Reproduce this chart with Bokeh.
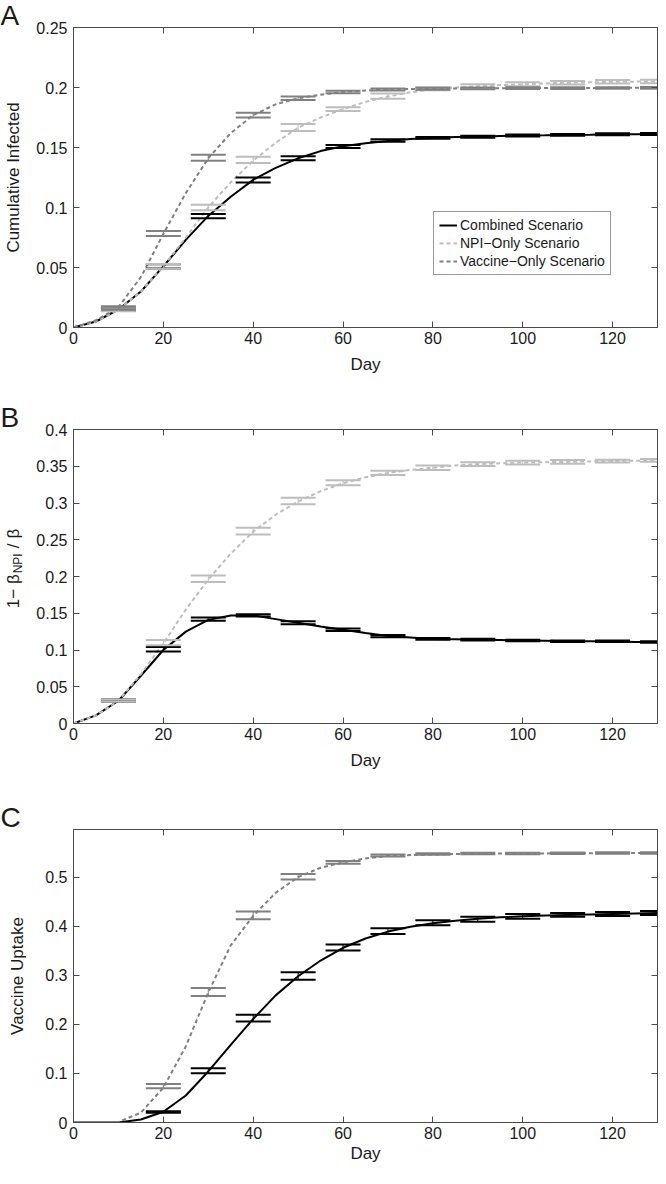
import math
from bokeh.plotting import figure
from bokeh.models import (Range1d, LinearAxis, Legend, LegendItem, Label, Whisker,
                          ColumnDataSource, TeeHead, FixedTicker, CustomJSTickFormatter)
from bokeh.layouts import column, row
from bokeh.embed import file_html
from bokeh.resources import INLINE

# ---------------- data ----------------
days = list(range(0, 131, 5))
err_days = list(range(10, 131, 10))
err_days_c = list(range(20, 131, 10))

x_ticks = [0, 20, 40, 60, 80, 100, 120]
x_tick_labels = ["0", "20", "40", "60", "80", "100", "120"]

series_names = ["Combined Scenario", "NPI\u2212Only Scenario", "Vaccine\u2212Only Scenario"]
panel_letters = ["A", "B", "C"]
y_titles = ["Cumulative Infected", None, "Vaccine Uptake"]
b_title_parts = ["1\u2212 \u03b2", "NPI", "/", "\u03b2"]

# Panel A: cumulative infected
a_yticks = [0, 0.05, 0.1, 0.15, 0.2, 0.25]
a_ytick_labels = ["0", "0.05", "0.1", "0.15", "0.2", "0.25"]
a_combined = [0, 0.005, 0.015, 0.030, 0.051, 0.073, 0.093, 0.109, 0.123, 0.133, 0.141, 0.147, 0.151,
              0.1535, 0.1555, 0.157, 0.158, 0.1587, 0.159, 0.1595, 0.160, 0.1602, 0.1605, 0.1607,
              0.161, 0.1611, 0.1612]
a_npi = [0, 0.005, 0.015, 0.030, 0.051, 0.075, 0.100, 0.121, 0.139, 0.154, 0.1665, 0.175, 0.182,
         0.188, 0.1925, 0.196, 0.1985, 0.200, 0.201, 0.202, 0.2027, 0.2033, 0.204, 0.2043, 0.2047,
         0.2049, 0.205]
a_vaccine = [0, 0.006, 0.017, 0.042, 0.078, 0.112, 0.141, 0.162, 0.177, 0.186, 0.191, 0.194, 0.1963,
             0.1975, 0.1983, 0.1988, 0.199, 0.1992, 0.1993, 0.1994, 0.1995, 0.1995, 0.1996, 0.1996,
             0.1997, 0.1997, 0.1997]
a_err_combined_mean = [0.015, 0.051, 0.0928, 0.1229, 0.141, 0.1508, 0.1558, 0.158, 0.159, 0.160, 0.1605, 0.161, 0.1612]
a_err_combined_half = [0.0012, 0.0018, 0.0018, 0.002, 0.0017, 0.0012, 0.001, 0.0008, 0.0008, 0.0008, 0.0008, 0.0008, 0.0008]
a_err_npi_mean = [0.0148, 0.051, 0.100, 0.1396, 0.1667, 0.182, 0.1928, 0.199, 0.201, 0.2027, 0.204, 0.2048, 0.205]
a_err_npi_half = [0.0012, 0.002, 0.0022, 0.0026, 0.0029, 0.0015, 0.0021, 0.0012, 0.0017, 0.0017, 0.0015, 0.0015, 0.0015]
a_err_vaccine_mean = [0.0165, 0.0784, 0.1415, 0.177, 0.191, 0.1963, 0.1983, 0.199, 0.1993, 0.1995, 0.1995, 0.1996, 0.1997]
a_err_vaccine_half = [0.0012, 0.0021, 0.0025, 0.002, 0.0015, 0.001, 0.0008, 0.0008, 0.0007, 0.0007, 0.0007, 0.0007, 0.0007]

# Panel B: 1 - beta_NPI / beta
b_yticks = [0, 0.05, 0.1, 0.15, 0.2, 0.25, 0.3, 0.35, 0.4]
b_ytick_labels = ["0", "0.05", "0.1", "0.15", "0.2", "0.25", "0.3", "0.35", "0.4"]
b_combined = [0, 0.011, 0.031, 0.065, 0.100, 0.125, 0.141, 0.147, 0.147, 0.142, 0.137, 0.132, 0.1275,
              0.123, 0.119, 0.117, 0.115, 0.1145, 0.114, 0.1135, 0.113, 0.1125, 0.112, 0.112, 0.1115,
              0.111, 0.111]
b_npi = [0, 0.011, 0.031, 0.067, 0.109, 0.155, 0.196, 0.231, 0.261, 0.284, 0.302, 0.316, 0.327, 0.335,
         0.341, 0.345, 0.348, 0.351, 0.353, 0.354, 0.355, 0.3556, 0.356, 0.3566, 0.357, 0.3575, 0.358]
b_err_combined_mean = [0.031, 0.101, 0.142, 0.147, 0.137, 0.1275, 0.119, 0.115, 0.114, 0.113, 0.112, 0.112, 0.111]
b_err_combined_half = [0.0015, 0.003, 0.0022, 0.0015, 0.002, 0.0018, 0.0015, 0.0012, 0.0012, 0.001, 0.001, 0.001, 0.001]
b_err_npi_mean = [0.031, 0.110, 0.197, 0.2617, 0.3027, 0.3276, 0.341, 0.348, 0.353, 0.355, 0.356, 0.357, 0.358]
b_err_npi_half = [0.0015, 0.0035, 0.0045, 0.0045, 0.0043, 0.0034, 0.003, 0.003, 0.0025, 0.0025, 0.0025, 0.002, 0.002]

# Panel C: vaccine uptake
c_yticks = [0, 0.1, 0.2, 0.3, 0.4, 0.5]
c_ytick_labels = ["0", "0.1", "0.2", "0.3", "0.4", "0.5"]
c_combined = [0, 0, 0, 0.006, 0.022, 0.055, 0.104, 0.158, 0.211, 0.259, 0.298, 0.330, 0.356, 0.375,
              0.389, 0.399, 0.406, 0.411, 0.415, 0.418, 0.420, 0.422, 0.423, 0.424, 0.425, 0.426, 0.427]
c_vaccine = [0, 0, 0.001, 0.020, 0.071, 0.155, 0.265, 0.361, 0.421, 0.468, 0.500, 0.519, 0.530, 0.538,
             0.543, 0.545, 0.546, 0.547, 0.5475, 0.548, 0.548, 0.5483, 0.5486, 0.5488, 0.549, 0.549, 0.549]
c_err_combined_mean = [0.0215, 0.1055, 0.2126, 0.2986, 0.3565, 0.390, 0.407, 0.414, 0.420, 0.423, 0.425, 0.427]
c_err_combined_half = [0.0015, 0.005, 0.007, 0.0075, 0.006, 0.006, 0.005, 0.005, 0.005, 0.004, 0.004, 0.004]
c_err_vaccine_mean = [0.074, 0.266, 0.422, 0.5006, 0.530, 0.544, 0.547, 0.548, 0.548, 0.5485, 0.549, 0.549]
c_err_vaccine_half = [0.0044, 0.008, 0.008, 0.0055, 0.003, 0.002, 0.0015, 0.0015, 0.0015, 0.0015, 0.0015, 0.0015]

# ---------------- style ----------------
FONT = "Liberation Sans"
TXT = "#1a1a1a"
AX = "#4a4a4a"
COL_COMB = "#000000"
COL_NPI = "#bdbdbd"
COL_VAC = "#808080"
DASH = "4 3"

TOTAL_W = 658
SIDE_W = 26           # narrow strip on the left for panel letters and y titles
W = TOTAL_W - SIDE_W  # main figure width
BL = 47               # left border of main figures (frame starts at page x 81)
BR = 1
X_END = 130

# panel geometry (height, border top, border bottom)
geo = [(400, 27, 73), (400, 29, 77), (368, 29, 46)]


def style_axis(ax, show_labels=True):
    ax.major_tick_in = 6
    ax.major_tick_out = 0
    ax.minor_tick_in = 0
    ax.minor_tick_out = 0
    ax.axis_line_color = AX
    ax.major_tick_line_color = AX
    ax.major_label_text_font = FONT
    ax.major_label_text_font_size = "16px"
    ax.major_label_text_color = TXT
    ax.axis_label_text_font = FONT
    ax.axis_label_text_font_size = "17px"
    ax.axis_label_text_font_style = "normal"
    ax.axis_label_text_color = TXT
    if not show_labels:
        ax.formatter = CustomJSTickFormatter(code="return ''")
        ax.major_label_standoff = 0


def make_panel(g, y_end, yticks, ylabels, xlab_standoff):
    height, top, bottom = g
    p = figure(width=W, height=height, x_range=Range1d(0, X_END), y_range=Range1d(0, y_end),
               output_backend="svg", toolbar_location=None,
               min_border_left=BL, min_border_right=BR, min_border_top=top, min_border_bottom=bottom,
               x_axis_location=None, y_axis_location=None)
    p.grid.visible = False
    p.outline_line_color = AX
    p.background_fill_color = "white"
    p.border_fill_color = "white"

    xb = LinearAxis(ticker=FixedTicker(ticks=x_ticks),
                    major_label_overrides=dict(zip(x_ticks, x_tick_labels)), axis_label="Day")
    style_axis(xb)
    xb.major_label_standoff = 4
    xb.axis_label_standoff = xlab_standoff
    p.add_layout(xb, "below")

    yl = LinearAxis(ticker=FixedTicker(ticks=yticks),
                    major_label_overrides=dict(zip(yticks, ylabels)))
    style_axis(yl)
    yl.major_label_standoff = 6
    p.add_layout(yl, "left")

    xt = LinearAxis(ticker=FixedTicker(ticks=x_ticks))
    style_axis(xt, show_labels=False)
    p.add_layout(xt, "above")
    yr = LinearAxis(ticker=FixedTicker(ticks=yticks))
    style_axis(yr, show_labels=False)
    p.add_layout(yr, "right")
    return p


def add_series(p, yvals, color, dash, width=2):
    src = ColumnDataSource(dict(x=days, y=yvals))
    return p.line("x", "y", source=src, line_color=color, line_width=width, line_dash=dash)


def add_err(p, xs, mean, half, color):
    src = ColumnDataSource(dict(x=xs, upper=[m + h for m, h in zip(mean, half)],
                                lower=[m - h for m, h in zip(mean, half)]))
    w = Whisker(source=src, base="x", upper="upper", lower="lower", dimension="height",
                line_color=color, line_width=1, level="glyph",
                upper_head=TeeHead(size=35, line_color=color, line_width=2),
                lower_head=TeeHead(size=35, line_color=color, line_width=2))
    p.add_layout(w)


# ---------------- panel A ----------------
pA = make_panel(geo[0], 0.25, a_yticks, a_ytick_labels, 8)
rA1 = add_series(pA, a_combined, COL_COMB, "solid")
add_err(pA, err_days, a_err_combined_mean, a_err_combined_half, COL_COMB)
rA2 = add_series(pA, a_npi, COL_NPI, DASH)
add_err(pA, err_days, a_err_npi_mean, a_err_npi_half, COL_NPI)
rA3 = add_series(pA, a_vaccine, COL_VAC, DASH)
add_err(pA, err_days, a_err_vaccine_mean, a_err_vaccine_half, COL_VAC)
legend = Legend(items=[LegendItem(label=series_names[0], renderers=[rA1]),
                       LegendItem(label=series_names[1], renderers=[rA2]),
                       LegendItem(label=series_names[2], renderers=[rA3])],
                location=(360, 52))
legend.label_text_font = FONT
legend.label_text_font_size = "14px"
legend.label_text_color = TXT
legend.glyph_width = 18
legend.glyph_height = 16
legend.label_height = 16
legend.label_standoff = 3
legend.spacing = 2
legend.padding = 5
legend.margin = 0
legend.border_line_color = "#333333"
legend.border_line_width = 1
legend.background_fill_color = "white"
legend.background_fill_alpha = 1
pA.add_layout(legend, "center")

# ---------------- panel B ----------------
pB = make_panel(geo[1], 0.4, b_yticks, b_ytick_labels, 8)
add_series(pB, b_combined, COL_COMB, "solid")
add_err(pB, err_days, b_err_combined_mean, b_err_combined_half, COL_COMB)
add_series(pB, b_npi, COL_NPI, DASH)
add_err(pB, err_days, b_err_npi_mean, b_err_npi_half, COL_NPI)

# ---------------- panel C ----------------
pC = make_panel(geo[2], 0.597, c_yticks, c_ytick_labels, 2)
add_series(pC, c_combined, COL_COMB, "solid")
add_err(pC, err_days_c, c_err_combined_mean, c_err_combined_half, COL_COMB)
add_series(pC, c_vaccine, COL_VAC, DASH)
add_err(pC, err_days_c, c_err_vaccine_mean, c_err_vaccine_half, COL_VAC)

# ---------------- side strip: panel letters and y-axis titles ----------------
TOTAL_H = sum(g[0] for g in geo)
side = figure(width=SIDE_W, height=TOTAL_H, x_range=Range1d(0, SIDE_W), y_range=Range1d(TOTAL_H, 0),
              output_backend="svg", toolbar_location=None, min_border=0,
              x_axis_location=None, y_axis_location=None)
side.grid.visible = False
side.outline_line_color = None
side.background_fill_color = "white"
side.border_fill_color = "white"

panel_tops = []
acc = 0
for g in geo:
    panel_tops.append(acc)
    acc += g[0]

# per panel: frame top/bottom in strip coordinates
frames = [(t + g[1], t + g[0] - g[2]) for t, g in zip(panel_tops, geo)]
title_baseline_x = [13, 13, 17]

for i, letter in enumerate(panel_letters):
    ftop, fbot = frames[i]
    side.add_layout(Label(x=0, y=ftop - 12, text=letter, text_font=FONT, text_font_size="28px",
                          text_color=TXT, text_align="left", text_baseline="alphabetic"))
    if y_titles[i]:
        side.add_layout(Label(x=title_baseline_x[i], y=(ftop + fbot) / 2, text=y_titles[i],
                              angle=math.pi / 2, text_font=FONT, text_font_size="17px",
                              text_color=TXT, text_align="center", text_baseline="alphabetic"))

# Panel B title with a subscript, assembled from rotated pieces
sizes = [17, 12, 17, 17]
advance = [(0.556 + 0.584 + 0.278 + 0.575) * 17 + 1,
           (0.722 + 0.667 + 0.278) * 12 + 5,
           0.278 * 17 + 5,
           0.575 * 17]
base_x = [13, 17, 13, 13]
ftop, fbot = frames[1]
ystart = (ftop + fbot) / 2 - 8 + sum(advance) / 2
for txt, fs, bx, adv in zip(b_title_parts, sizes, base_x, advance):
    side.add_layout(Label(x=bx, y=ystart, text=txt, angle=math.pi / 2, text_font=FONT,
                          text_font_size=f"{fs}px", text_color=TXT,
                          text_align="left", text_baseline="alphabetic"))
    ystart -= adv

layout = row(side, column(pA, pB, pC, spacing=0), spacing=0)
open("out.html", "w").write(file_html(layout, INLINE))
